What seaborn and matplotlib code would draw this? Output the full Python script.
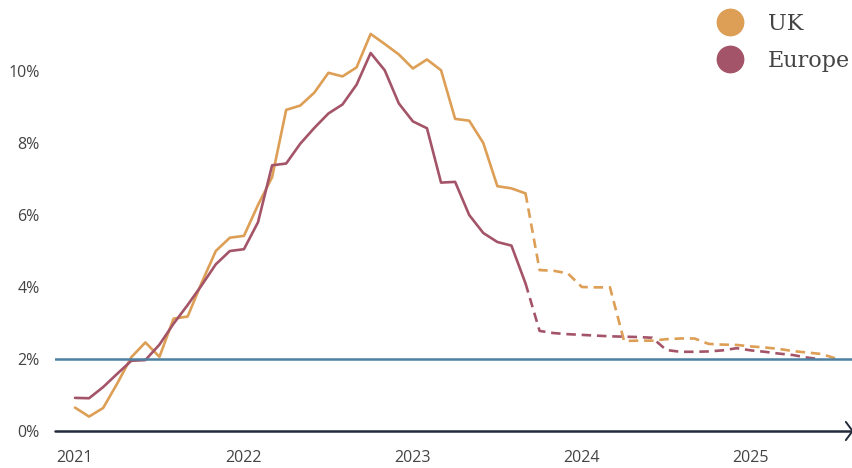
import numpy as np
import pandas as pd
import matplotlib
matplotlib.use("Agg")
import matplotlib.pyplot as plt
from matplotlib.lines import Line2D
import seaborn as sns

# Monthly inflation (%), index 0 = January 2021
uk_actual = [0.65, 0.40, 0.64, 1.32, 2.05, 2.46, 2.06, 3.12, 3.18, 4.12,
             5.00, 5.37, 5.42, 6.28, 7.05, 8.92, 9.04, 9.40, 9.95, 9.85,
             10.10, 11.03, 10.75, 10.46, 10.07, 10.32, 10.02, 8.67, 8.62, 8.00,
             6.80, 6.74, 6.60]
uk_forecast = [4.47, 4.45, 4.38, 4.00, 3.99, 3.99, 2.50, 2.51, 2.51, 2.55,
               2.57, 2.57, 2.42, 2.40, 2.39, 2.35, 2.32, 2.28, 2.22, 2.18,
               2.14, 2.02]

eu_actual = [0.92, 0.91, 1.22, 1.59, 1.95, 1.97, 2.40, 2.98, 3.50, 4.05,
             4.63, 5.00, 5.05, 5.80, 7.38, 7.43, 7.98, 8.42, 8.82, 9.07,
             9.62, 10.50, 10.02, 9.10, 8.60, 8.41, 6.90, 6.92, 6.00, 5.50,
             5.25, 5.15, 4.10]
eu_forecast = [2.78, 2.72, 2.69, 2.67, 2.65, 2.63, 2.62, 2.61, 2.59, 2.25,
               2.20, 2.20, 2.21, 2.24, 2.30, 2.24, 2.20, 2.15, 2.11, 2.04,
               1.99]

year_labels = ["2021", "2022", "2023", "2024", "2025"]
y_ticks = [0, 2, 4, 6, 8, 10]
target = 2.0

colors = {"UK": "#DD9E55", "Europe": "#A45468"}
target_color = "#4D80A1"
axis_color = "#222B3A"
text_color = "#444444"


def frame(series, actual, forecast):
    n = len(actual)
    act = pd.DataFrame({"month": np.arange(n), "value": actual,
                        "series": series, "kind": "actual"})
    # forecast starts from the last observed month so the two parts join
    fc_vals = [actual[-1]] + list(forecast)
    fc = pd.DataFrame({"month": np.arange(n - 1, n - 1 + len(fc_vals)),
                       "value": fc_vals, "series": series, "kind": "forecast"})
    return pd.concat([act, fc], ignore_index=True)


df = pd.concat([frame("UK", uk_actual, uk_forecast),
                frame("Europe", eu_actual, eu_forecast)], ignore_index=True)
df["line"] = df["series"] + "-" + df["kind"]

sns.set_theme(style="white")
plt.rcParams["font.family"] = ["Open Sans", "DejaVu Sans"]

fig = plt.figure(figsize=(8.53, 4.68), dpi=100)
ax = fig.add_axes([55 / 853, 37 / 468, 798 / 853, 414 / 468])

sns.lineplot(data=df, x="month", y="value", hue="series", style="kind",
             units="line", estimator=None, palette=colors,
             dashes={"actual": "", "forecast": (3.6, 2.2)},
             linewidth=1.9, legend=False, ax=ax, zorder=3)

# 2% target line
ax.axhline(target, color=target_color, linewidth=1.8, zorder=4)
# baseline with arrow head
ax.axhline(0, color=axis_color, linewidth=1.8, zorder=4, clip_on=False)
ax.plot([0.991, 0.9995, 0.991], [0.022, 0, -0.022], transform=ax.transAxes,
        color=axis_color, linewidth=1.4, clip_on=False, zorder=5)

ax.set_xlim(-1.42, 55.26)
ax.set_ylim(0, 11.5)
ax.set_xticks([0, 12, 24, 36, 48])
ax.set_xticklabels(year_labels)
ax.set_yticks(y_ticks)
ax.set_yticklabels([f"{v}%" for v in y_ticks])
ax.tick_params(axis="x", length=0, pad=14, labelsize=11.5, labelcolor=text_color)
ax.tick_params(axis="y", length=0, pad=11, labelsize=11.5, labelcolor=text_color)
ax.set_xlabel("")
ax.set_ylabel("")
for s in ax.spines.values():
    s.set_visible(False)

handles = [Line2D([], [], marker="o", linestyle="", markersize=19,
                  color=colors[k]) for k in ["UK", "Europe"]]
leg = fig.legend(handles, ["UK", "Europe"], loc="upper left",
                 bbox_to_anchor=(717 / 853, 1 - 13 / 468), frameon=False,
                 borderpad=0, borderaxespad=0, handlelength=1.2,
                 handletextpad=1.1, labelspacing=0.68,
                 prop={"family": "DejaVu Serif", "size": 16})
for t in leg.get_texts():
    t.set_color(text_color)

fig.savefig("out.png", dpi=100)
